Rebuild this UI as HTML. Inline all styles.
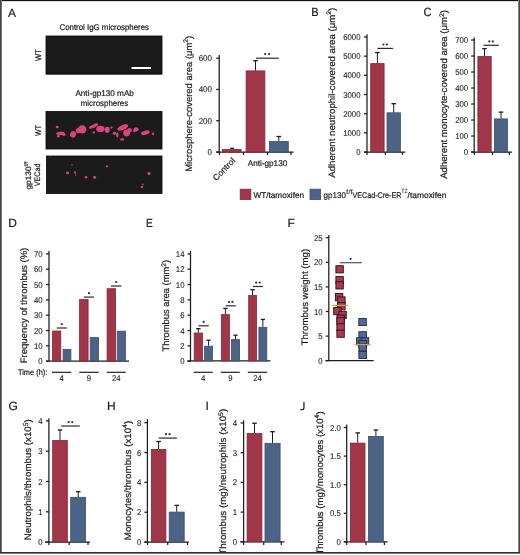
<!DOCTYPE html>
<html><head><meta charset="utf-8"><style>
html,body{margin:0;padding:0;background:#fff;}
svg{display:block;will-change:transform;}
text{font-family:"Liberation Sans", sans-serif;text-rendering:geometricPrecision;stroke:#1a1a1a;stroke-width:0.2px;}
.t{opacity:0.995;}
</style></head><body>
<svg width="520" height="555" viewBox="0 0 520 555">
<rect x="0" y="0" width="520" height="555" fill="#fff"/>
<text x="8" y="16.6" font-size="12" fill="#1a1a1a" >A</text>
<text x="59.5" y="30" font-size="8.3" fill="#1a1a1a" textLength="89.5" lengthAdjust="spacingAndGlyphs" >Control IgG microspheres</text>
<rect x="46" y="36" width="116" height="38.2" fill="#1b1b1b" stroke="#050505" stroke-width="0.8"/>
<rect x="131.5" y="67" width="19.5" height="2" fill="#fff"/>
<text transform="translate(40.7,61.1) rotate(-90)" font-size="8.3" fill="#1a1a1a" textLength="11.9" lengthAdjust="spacingAndGlyphs" >WT</text>
<text x="75.4" y="96" font-size="8.3" fill="#1a1a1a" textLength="58.5" lengthAdjust="spacingAndGlyphs" >Anti-gp130 mAb</text>
<text x="80.8" y="105.9" font-size="8.3" fill="#1a1a1a" textLength="47.3" lengthAdjust="spacingAndGlyphs" >microspheres</text>
<rect x="46" y="111.5" width="116" height="37.5" fill="#1b1b1b" stroke="#050505" stroke-width="0.8"/>
<text transform="translate(40.5,136) rotate(-90)" font-size="8.3" fill="#1a1a1a" textLength="11" lengthAdjust="spacingAndGlyphs" >WT</text>
<rect x="46.5" y="156" width="115.5" height="37.5" fill="#1b1b1b" stroke="#050505" stroke-width="0.8"/>
<text transform="translate(31.0,189.6) rotate(-90)" font-size="7.9" fill="#1a1a1a" textLength="28" lengthAdjust="spacingAndGlyphs" >gp130<tspan font-size="5.4" dy="-3.3">f/f</tspan></text>
<text transform="translate(39.9,186.3) rotate(-90)" font-size="8" fill="#1a1a1a" textLength="22.7" lengthAdjust="spacingAndGlyphs" >VECad</text>
<ellipse cx="57.2" cy="127" rx="1.5" ry="1.2" fill="#d9447e"/>
<ellipse cx="60.5" cy="133.4" rx="4.3" ry="1.7" fill="#d9447e" transform="rotate(-5 60.5 133.4)"/>
<ellipse cx="58.3" cy="136.3" rx="1.3" ry="1.3" fill="#d9447e"/>
<ellipse cx="63.8" cy="134.6" rx="1.8" ry="1.3" fill="#d9447e"/>
<ellipse cx="73.1" cy="134.3" rx="3" ry="3.3" fill="#d9447e" transform="rotate(20 73.1 134.3)"/>
<ellipse cx="82.2" cy="129.3" rx="4.2" ry="4.1" fill="#d9447e"/>
<ellipse cx="78.3" cy="130.6" rx="2.5" ry="2.7" fill="#d9447e"/>
<ellipse cx="93.3" cy="126.3" rx="4.8" ry="1.5" fill="#d9447e" transform="rotate(-22 93.3 126.3)"/>
<ellipse cx="95.8" cy="124.6" rx="2.4" ry="1.2" fill="#d9447e" transform="rotate(-10 95.8 124.6)"/>
<ellipse cx="93.8" cy="132.4" rx="1.2" ry="1.2" fill="#d9447e"/>
<ellipse cx="100.4" cy="128.9" rx="4.2" ry="3.1" fill="#d9447e"/>
<ellipse cx="107.2" cy="129.8" rx="2.6" ry="3.1" fill="#d9447e"/>
<ellipse cx="111.5" cy="127.6" rx="1.2" ry="1.1" fill="#d9447e"/>
<ellipse cx="122.8" cy="127.5" rx="5.8" ry="2.5" fill="#d9447e" transform="rotate(-22 122.8 127.5)"/>
<ellipse cx="126.6" cy="133" rx="3.3" ry="3.4" fill="#d9447e"/>
<ellipse cx="129.6" cy="130.2" rx="2.1" ry="2.3" fill="#d9447e"/>
<ellipse cx="114.5" cy="133.2" rx="1.8" ry="1.5" fill="#d9447e"/>
<ellipse cx="117.3" cy="134.8" rx="1.2" ry="2.6" fill="#d9447e"/>
<ellipse cx="122.2" cy="139.4" rx="2" ry="1.2" fill="#d9447e"/>
<ellipse cx="136.1" cy="129.4" rx="2.6" ry="2.1" fill="#d9447e"/>
<ellipse cx="134.4" cy="131.2" rx="1.2" ry="1.1" fill="#d9447e"/>
<ellipse cx="145.3" cy="132.7" rx="4.5" ry="2.1" fill="#d9447e" transform="rotate(-15 145.3 132.7)"/>
<ellipse cx="153" cy="133.8" rx="1.1" ry="1.4" fill="#d9447e"/>
<ellipse cx="71.9" cy="164.8" rx="1" ry="0.9" fill="#d9447e" opacity="0.6"/>
<ellipse cx="67.5" cy="172.9" rx="1.5" ry="1.4" fill="#d9447e" opacity="1"/>
<ellipse cx="75" cy="172.5" rx="1" ry="1.3" fill="#d9447e" opacity="1"/>
<ellipse cx="75.6" cy="175" rx="0.7" ry="0.7" fill="#d9447e" opacity="1"/>
<ellipse cx="86" cy="177.3" rx="1.4" ry="1.3" fill="#d9447e" opacity="1"/>
<ellipse cx="94.6" cy="177.3" rx="1.5" ry="1.5" fill="#d9447e" opacity="1"/>
<ellipse cx="107" cy="166.3" rx="1.2" ry="1" fill="#d9447e" opacity="1"/>
<ellipse cx="149" cy="173.5" rx="1.6" ry="1.5" fill="#d9447e" opacity="1"/>
<ellipse cx="141.9" cy="186.9" rx="1.2" ry="1.2" fill="#d9447e" opacity="1"/>
<ellipse cx="142.9" cy="184.4" rx="0.8" ry="0.9" fill="#d9447e" opacity="1"/>
<ellipse cx="50.6" cy="156.8" rx="0.7" ry="0.5" fill="#d9447e" opacity="0.5"/>
<ellipse cx="136.5" cy="186.2" rx="0.5" ry="0.5" fill="#d9447e" opacity="0.4"/>
<line x1="219.2" y1="55" x2="219.2" y2="152.5" stroke="#1c1c1c" stroke-width="1.25"/>
<line x1="216.2" y1="58.202" x2="219.2" y2="58.202" stroke="#1c1c1c" stroke-width="1.25"/>
<text x="212" y="61.226" font-size="8.4" fill="#1a1a1a" style="stroke-width:0.1px" text-anchor="end" textLength="13.34" lengthAdjust="spacingAndGlyphs" >600</text>
<line x1="216.2" y1="89.468" x2="219.2" y2="89.468" stroke="#1c1c1c" stroke-width="1.25"/>
<text x="212" y="92.492" font-size="8.4" fill="#1a1a1a" style="stroke-width:0.1px" text-anchor="end" textLength="13.34" lengthAdjust="spacingAndGlyphs" >400</text>
<line x1="216.2" y1="120.73400000000001" x2="219.2" y2="120.73400000000001" stroke="#1c1c1c" stroke-width="1.25"/>
<text x="212" y="123.75800000000001" font-size="8.4" fill="#1a1a1a" style="stroke-width:0.1px" text-anchor="end" textLength="13.34" lengthAdjust="spacingAndGlyphs" >200</text>
<line x1="216.2" y1="152.0" x2="219.2" y2="152.0" stroke="#1c1c1c" stroke-width="1.25"/>
<text x="212" y="155.024" font-size="8.4" fill="#1a1a1a" style="stroke-width:0.1px" text-anchor="end" textLength="4.45" lengthAdjust="spacingAndGlyphs" >0</text>
<line x1="216.2" y1="152" x2="293.5" y2="152" stroke="#1c1c1c" stroke-width="1.25"/>
<line x1="219.4" y1="152" x2="219.4" y2="155" stroke="#1c1c1c" stroke-width="1.25"/>
<line x1="243.5" y1="152" x2="243.5" y2="155" stroke="#1c1c1c" stroke-width="1.25"/>
<line x1="267.5" y1="152" x2="267.5" y2="155" stroke="#1c1c1c" stroke-width="1.25"/>
<line x1="291" y1="152" x2="291" y2="155" stroke="#1c1c1c" stroke-width="1.25"/>
<rect x="222.4" y="149.5" width="18.7" height="2.5" fill="#9f3748" stroke="#8b2336" stroke-width="0.8"/>
<line x1="230.2" y1="148.29999999999998" x2="234.0" y2="148.29999999999998" stroke="#1c1c1c" stroke-width="1.3"/>
<line x1="232.1" y1="148.1" x2="232.1" y2="149.1" stroke="#1c1c1c" stroke-width="1.0"/>
<rect x="246.1" y="70.9" width="18.8" height="81.1" fill="#9f3748" stroke="#8b2336" stroke-width="0.8"/>
<line x1="253.2" y1="60.7" x2="257.8" y2="60.7" stroke="#1c1c1c" stroke-width="1.3"/>
<line x1="255.5" y1="60.5" x2="255.5" y2="70.5" stroke="#1c1c1c" stroke-width="1.0"/>
<rect x="269.4" y="141.4" width="18.9" height="10.6" fill="#4d6386" stroke="#3b4e6e" stroke-width="0.8"/>
<line x1="276.5" y1="136.5" x2="281.1" y2="136.5" stroke="#1c1c1c" stroke-width="1.3"/>
<line x1="278.8" y1="136.3" x2="278.8" y2="141" stroke="#1c1c1c" stroke-width="1.0"/>
<line x1="256" y1="58.2" x2="278.8" y2="58.2" stroke="#2a2a2a" stroke-width="1.2"/>
<circle cx="265.15" cy="54.1" r="1.12" fill="#333"/>
<circle cx="269.05" cy="54.1" r="1.12" fill="#333"/>
<text x="247.7" y="165.6" font-size="8.3" fill="#1a1a1a" textLength="39.6" lengthAdjust="spacingAndGlyphs" >Anti-gp130</text>
<text transform="translate(216.3,181.2) rotate(-46)" font-size="8.3" fill="#1a1a1a" textLength="28" lengthAdjust="spacingAndGlyphs" >Control</text>
<text transform="translate(191.5,171.8) rotate(-90)" font-size="9.4" fill="#1a1a1a" textLength="136" lengthAdjust="spacingAndGlyphs" >Microsphere-covered area (μm<tspan font-size="6.6" dy="-3.6">2</tspan><tspan dy="3.6">)</tspan></text>
<rect x="240.2" y="189.2" width="10.6" height="10.4" fill="#9f3748" stroke="#8b2336" stroke-width="0.8"/>
<text x="253.5" y="197.8" font-size="8.3" fill="#1a1a1a" textLength="50.6" lengthAdjust="spacingAndGlyphs" >WT/tamoxifen</text>
<rect x="310" y="189.2" width="10.6" height="10.4" fill="#4d6386" stroke="#3b4e6e" stroke-width="0.8"/>
<text x="323.6" y="197.8" font-size="8.3" fill="#1a1a1a" textLength="22.3" lengthAdjust="spacingAndGlyphs" >gp130</text>
<text x="345.9" y="194.2" font-size="6.4" fill="#1a1a1a" style="stroke-width:0.05px" textLength="6.9" lengthAdjust="spacingAndGlyphs" >f/f</text>
<text x="352.6" y="197.8" font-size="8.3" fill="#1a1a1a" textLength="48.8" lengthAdjust="spacingAndGlyphs" >VECad-Cre-ER</text>
<text x="401.2" y="192.9" font-size="6.2" fill="#1a1a1a" style="stroke-width:0.05px" textLength="6.4" lengthAdjust="spacingAndGlyphs" >T2</text>
<text x="407.6" y="197.8" font-size="8.3" fill="#1a1a1a" textLength="38.8" lengthAdjust="spacingAndGlyphs" >/tamoxifen</text>
<text x="311.3" y="16.1" font-size="12" fill="#1a1a1a" textLength="7.3" lengthAdjust="spacingAndGlyphs" >B</text>
<line x1="367" y1="34.2" x2="367" y2="152.5" stroke="#1c1c1c" stroke-width="1.25"/>
<line x1="364" y1="36.998000000000005" x2="367" y2="36.998000000000005" stroke="#1c1c1c" stroke-width="1.25"/>
<text x="360.5" y="40.022000000000006" font-size="8.4" fill="#1a1a1a" style="stroke-width:0.1px" text-anchor="end" textLength="17.35" lengthAdjust="spacingAndGlyphs" >6000</text>
<line x1="364" y1="56.165000000000006" x2="367" y2="56.165000000000006" stroke="#1c1c1c" stroke-width="1.25"/>
<text x="360.5" y="59.18900000000001" font-size="8.4" fill="#1a1a1a" style="stroke-width:0.1px" text-anchor="end" textLength="17.35" lengthAdjust="spacingAndGlyphs" >5000</text>
<line x1="364" y1="75.332" x2="367" y2="75.332" stroke="#1c1c1c" stroke-width="1.25"/>
<text x="360.5" y="78.356" font-size="8.4" fill="#1a1a1a" style="stroke-width:0.1px" text-anchor="end" textLength="17.35" lengthAdjust="spacingAndGlyphs" >4000</text>
<line x1="364" y1="94.499" x2="367" y2="94.499" stroke="#1c1c1c" stroke-width="1.25"/>
<text x="360.5" y="97.523" font-size="8.4" fill="#1a1a1a" style="stroke-width:0.1px" text-anchor="end" textLength="17.35" lengthAdjust="spacingAndGlyphs" >3000</text>
<line x1="364" y1="113.666" x2="367" y2="113.666" stroke="#1c1c1c" stroke-width="1.25"/>
<text x="360.5" y="116.69" font-size="8.4" fill="#1a1a1a" style="stroke-width:0.1px" text-anchor="end" textLength="17.35" lengthAdjust="spacingAndGlyphs" >2000</text>
<line x1="364" y1="132.833" x2="367" y2="132.833" stroke="#1c1c1c" stroke-width="1.25"/>
<text x="360.5" y="135.857" font-size="8.4" fill="#1a1a1a" style="stroke-width:0.1px" text-anchor="end" textLength="17.35" lengthAdjust="spacingAndGlyphs" >1000</text>
<line x1="364" y1="152.0" x2="367" y2="152.0" stroke="#1c1c1c" stroke-width="1.25"/>
<text x="360.5" y="155.024" font-size="8.4" fill="#1a1a1a" style="stroke-width:0.1px" text-anchor="end" textLength="4.34" lengthAdjust="spacingAndGlyphs" >0</text>
<line x1="364" y1="152" x2="405.4" y2="152" stroke="#1c1c1c" stroke-width="1.25"/>
<line x1="367" y1="152" x2="367" y2="155" stroke="#1c1c1c" stroke-width="1.25"/>
<line x1="385.4" y1="152" x2="385.4" y2="155" stroke="#1c1c1c" stroke-width="1.25"/>
<line x1="402.5" y1="152" x2="402.5" y2="155" stroke="#1c1c1c" stroke-width="1.25"/>
<rect x="370.7" y="63.6" width="13.4" height="88.4" fill="#9f3748" stroke="#8b2336" stroke-width="0.8"/>
<line x1="375.09999999999997" y1="52.6" x2="379.7" y2="52.6" stroke="#1c1c1c" stroke-width="1.3"/>
<line x1="377.4" y1="52.4" x2="377.4" y2="63.2" stroke="#1c1c1c" stroke-width="1.0"/>
<rect x="387.0" y="112.80000000000001" width="13.4" height="39.2" fill="#4d6386" stroke="#3b4e6e" stroke-width="0.8"/>
<line x1="391.4" y1="103.7" x2="396.0" y2="103.7" stroke="#1c1c1c" stroke-width="1.3"/>
<line x1="393.7" y1="103.5" x2="393.7" y2="112.4" stroke="#1c1c1c" stroke-width="1.0"/>
<line x1="377.4" y1="48.4" x2="393" y2="48.4" stroke="#2a2a2a" stroke-width="1.2"/>
<circle cx="383.45" cy="44.5" r="1.12" fill="#333"/>
<circle cx="386.95" cy="44.5" r="1.12" fill="#333"/>
<text transform="translate(335,177.7) rotate(-90)" font-size="9.4" fill="#1a1a1a" textLength="170" lengthAdjust="spacingAndGlyphs" >Adherent neutrophil-covered area (μm<tspan font-size="6.6" dy="-3.6">2</tspan><tspan dy="3.6">)</tspan></text>
<text x="423.5" y="16.3" font-size="12" fill="#1a1a1a" textLength="8.1" lengthAdjust="spacingAndGlyphs" >C</text>
<line x1="474.2" y1="37.5" x2="474.2" y2="152.5" stroke="#1c1c1c" stroke-width="1.25"/>
<line x1="471.2" y1="40.0" x2="474.2" y2="40.0" stroke="#1c1c1c" stroke-width="1.25"/>
<text x="468.2" y="43.024" font-size="8.4" fill="#1a1a1a" style="stroke-width:0.1px" text-anchor="end" textLength="13.01" lengthAdjust="spacingAndGlyphs" >700</text>
<line x1="471.2" y1="56.0" x2="474.2" y2="56.0" stroke="#1c1c1c" stroke-width="1.25"/>
<text x="468.2" y="59.024" font-size="8.4" fill="#1a1a1a" style="stroke-width:0.1px" text-anchor="end" textLength="13.01" lengthAdjust="spacingAndGlyphs" >600</text>
<line x1="471.2" y1="72.0" x2="474.2" y2="72.0" stroke="#1c1c1c" stroke-width="1.25"/>
<text x="468.2" y="75.024" font-size="8.4" fill="#1a1a1a" style="stroke-width:0.1px" text-anchor="end" textLength="13.01" lengthAdjust="spacingAndGlyphs" >500</text>
<line x1="471.2" y1="88.0" x2="474.2" y2="88.0" stroke="#1c1c1c" stroke-width="1.25"/>
<text x="468.2" y="91.024" font-size="8.4" fill="#1a1a1a" style="stroke-width:0.1px" text-anchor="end" textLength="13.01" lengthAdjust="spacingAndGlyphs" >400</text>
<line x1="471.2" y1="104.0" x2="474.2" y2="104.0" stroke="#1c1c1c" stroke-width="1.25"/>
<text x="468.2" y="107.024" font-size="8.4" fill="#1a1a1a" style="stroke-width:0.1px" text-anchor="end" textLength="13.01" lengthAdjust="spacingAndGlyphs" >300</text>
<line x1="471.2" y1="120.0" x2="474.2" y2="120.0" stroke="#1c1c1c" stroke-width="1.25"/>
<text x="468.2" y="123.024" font-size="8.4" fill="#1a1a1a" style="stroke-width:0.1px" text-anchor="end" textLength="13.01" lengthAdjust="spacingAndGlyphs" >200</text>
<line x1="471.2" y1="136.0" x2="474.2" y2="136.0" stroke="#1c1c1c" stroke-width="1.25"/>
<text x="468.2" y="139.024" font-size="8.4" fill="#1a1a1a" style="stroke-width:0.1px" text-anchor="end" textLength="13.01" lengthAdjust="spacingAndGlyphs" >100</text>
<line x1="471.2" y1="152.0" x2="474.2" y2="152.0" stroke="#1c1c1c" stroke-width="1.25"/>
<text x="468.2" y="155.024" font-size="8.4" fill="#1a1a1a" style="stroke-width:0.1px" text-anchor="end" textLength="4.34" lengthAdjust="spacingAndGlyphs" >0</text>
<line x1="471" y1="152" x2="512" y2="152" stroke="#1c1c1c" stroke-width="1.25"/>
<line x1="474.4" y1="152" x2="474.4" y2="155" stroke="#1c1c1c" stroke-width="1.25"/>
<line x1="492.5" y1="152" x2="492.5" y2="155" stroke="#1c1c1c" stroke-width="1.25"/>
<line x1="509.4" y1="152" x2="509.4" y2="155" stroke="#1c1c1c" stroke-width="1.25"/>
<rect x="477.9" y="56.4" width="13.3" height="95.6" fill="#9f3748" stroke="#8b2336" stroke-width="0.8"/>
<line x1="482.2" y1="48.6" x2="486.8" y2="48.6" stroke="#1c1c1c" stroke-width="1.3"/>
<line x1="484.5" y1="48.4" x2="484.5" y2="56" stroke="#1c1c1c" stroke-width="1.0"/>
<rect x="494.4" y="118.9" width="13.1" height="33.1" fill="#4d6386" stroke="#3b4e6e" stroke-width="0.8"/>
<line x1="498.7" y1="112.10000000000001" x2="503.3" y2="112.10000000000001" stroke="#1c1c1c" stroke-width="1.3"/>
<line x1="501" y1="111.9" x2="501" y2="118.5" stroke="#1c1c1c" stroke-width="1.0"/>
<line x1="483.5" y1="45.3" x2="498.8" y2="45.3" stroke="#2a2a2a" stroke-width="1.2"/>
<circle cx="489.35" cy="41.4" r="1.12" fill="#333"/>
<circle cx="492.85" cy="41.4" r="1.12" fill="#333"/>
<text transform="translate(447.4,178.8) rotate(-90)" font-size="9.4" fill="#1a1a1a" textLength="168.8" lengthAdjust="spacingAndGlyphs" >Adherent monocyte-covered area (μm<tspan font-size="6.6" dy="-3.6">2</tspan><tspan dy="3.6">)</tspan></text>
<text x="8.3" y="226.8" font-size="12" fill="#1a1a1a" >D</text>
<line x1="49" y1="251" x2="49" y2="361.5" stroke="#1c1c1c" stroke-width="1.25"/>
<line x1="46" y1="253.86899999999997" x2="49" y2="253.86899999999997" stroke="#1c1c1c" stroke-width="1.25"/>
<text x="42.6" y="256.893" font-size="8.4" fill="#1a1a1a" style="stroke-width:0.1px" text-anchor="end" textLength="8.67" lengthAdjust="spacingAndGlyphs" >70</text>
<line x1="46" y1="269.202" x2="49" y2="269.202" stroke="#1c1c1c" stroke-width="1.25"/>
<text x="42.6" y="272.226" font-size="8.4" fill="#1a1a1a" style="stroke-width:0.1px" text-anchor="end" textLength="8.67" lengthAdjust="spacingAndGlyphs" >60</text>
<line x1="46" y1="284.53499999999997" x2="49" y2="284.53499999999997" stroke="#1c1c1c" stroke-width="1.25"/>
<text x="42.6" y="287.55899999999997" font-size="8.4" fill="#1a1a1a" style="stroke-width:0.1px" text-anchor="end" textLength="8.67" lengthAdjust="spacingAndGlyphs" >50</text>
<line x1="46" y1="299.868" x2="49" y2="299.868" stroke="#1c1c1c" stroke-width="1.25"/>
<text x="42.6" y="302.892" font-size="8.4" fill="#1a1a1a" style="stroke-width:0.1px" text-anchor="end" textLength="8.67" lengthAdjust="spacingAndGlyphs" >40</text>
<line x1="46" y1="315.20099999999996" x2="49" y2="315.20099999999996" stroke="#1c1c1c" stroke-width="1.25"/>
<text x="42.6" y="318.22499999999997" font-size="8.4" fill="#1a1a1a" style="stroke-width:0.1px" text-anchor="end" textLength="8.67" lengthAdjust="spacingAndGlyphs" >30</text>
<line x1="46" y1="330.534" x2="49" y2="330.534" stroke="#1c1c1c" stroke-width="1.25"/>
<text x="42.6" y="333.558" font-size="8.4" fill="#1a1a1a" style="stroke-width:0.1px" text-anchor="end" textLength="8.67" lengthAdjust="spacingAndGlyphs" >20</text>
<line x1="46" y1="345.86699999999996" x2="49" y2="345.86699999999996" stroke="#1c1c1c" stroke-width="1.25"/>
<text x="42.6" y="348.89099999999996" font-size="8.4" fill="#1a1a1a" style="stroke-width:0.1px" text-anchor="end" textLength="8.67" lengthAdjust="spacingAndGlyphs" >10</text>
<line x1="46" y1="361.2" x2="49" y2="361.2" stroke="#1c1c1c" stroke-width="1.25"/>
<text x="42.6" y="364.224" font-size="8.4" fill="#1a1a1a" style="stroke-width:0.1px" text-anchor="end" textLength="4.34" lengthAdjust="spacingAndGlyphs" >0</text>
<line x1="46" y1="361" x2="129" y2="361" stroke="#1c1c1c" stroke-width="1.25"/>
<rect x="52.6" y="331.0" width="8.2" height="30.0" fill="#9f3748" stroke="#8b2336" stroke-width="0.8"/>
<rect x="63.1" y="349.4" width="7.8" height="11.6" fill="#4d6386" stroke="#3b4e6e" stroke-width="0.8"/>
<line x1="56.8" y1="328" x2="66.9" y2="328" stroke="#2a2a2a" stroke-width="1.2"/>
<circle cx="61.85" cy="324.1" r="1.12" fill="#333"/>
<rect x="79.60000000000001" y="299.5" width="8.5" height="61.5" fill="#9f3748" stroke="#8b2336" stroke-width="0.8"/>
<rect x="90.2" y="337.5" width="8.3" height="23.5" fill="#4d6386" stroke="#3b4e6e" stroke-width="0.8"/>
<line x1="84" y1="297.1" x2="94" y2="297.1" stroke="#2a2a2a" stroke-width="1.2"/>
<circle cx="89.0" cy="293.20000000000005" r="1.12" fill="#333"/>
<rect x="107.10000000000001" y="288.7" width="8.5" height="72.3" fill="#9f3748" stroke="#8b2336" stroke-width="0.8"/>
<rect x="117.2" y="331.2" width="8.2" height="29.8" fill="#4d6386" stroke="#3b4e6e" stroke-width="0.8"/>
<line x1="111" y1="286" x2="121.4" y2="286" stroke="#2a2a2a" stroke-width="1.2"/>
<circle cx="116.2" cy="282.1" r="1.12" fill="#333"/>
<line x1="52" y1="372.3" x2="71.3" y2="372.3" stroke="#222" stroke-width="1.2"/>
<text x="61.65" y="381" font-size="8.4" fill="#1a1a1a" style="stroke-width:0.12px" text-anchor="middle" textLength="4.28" lengthAdjust="spacingAndGlyphs" >4</text>
<line x1="79.3" y1="372.3" x2="98.7" y2="372.3" stroke="#222" stroke-width="1.2"/>
<text x="89.0" y="381" font-size="8.4" fill="#1a1a1a" style="stroke-width:0.12px" text-anchor="middle" textLength="4.28" lengthAdjust="spacingAndGlyphs" >9</text>
<line x1="106.7" y1="372.3" x2="125.8" y2="372.3" stroke="#222" stroke-width="1.2"/>
<text x="116.25" y="381" font-size="8.4" fill="#1a1a1a" style="stroke-width:0.12px" text-anchor="middle" textLength="8.56" lengthAdjust="spacingAndGlyphs" >24</text>
<text x="17.9" y="374.8" font-size="8.1" fill="#1a1a1a" textLength="29.4" lengthAdjust="spacingAndGlyphs" >Time (h):</text>
<text transform="translate(27.4,363.3) rotate(-90)" font-size="9.4" fill="#1a1a1a" textLength="115.6" lengthAdjust="spacingAndGlyphs" >Frequency of thrombus (%)</text>
<text x="145.9" y="226.8" font-size="12" fill="#1a1a1a" textLength="6.8" lengthAdjust="spacingAndGlyphs" >E</text>
<line x1="190.5" y1="251" x2="190.5" y2="361.5" stroke="#1c1c1c" stroke-width="1.25"/>
<line x1="187.5" y1="253.8662" x2="190.5" y2="253.8662" stroke="#1c1c1c" stroke-width="1.25"/>
<text x="184.5" y="256.8902" font-size="8.4" fill="#1a1a1a" style="stroke-width:0.1px" text-anchor="end" textLength="8.67" lengthAdjust="spacingAndGlyphs" >14</text>
<line x1="187.5" y1="269.1996" x2="190.5" y2="269.1996" stroke="#1c1c1c" stroke-width="1.25"/>
<text x="184.5" y="272.2236" font-size="8.4" fill="#1a1a1a" style="stroke-width:0.1px" text-anchor="end" textLength="8.67" lengthAdjust="spacingAndGlyphs" >12</text>
<line x1="187.5" y1="284.533" x2="190.5" y2="284.533" stroke="#1c1c1c" stroke-width="1.25"/>
<text x="184.5" y="287.557" font-size="8.4" fill="#1a1a1a" style="stroke-width:0.1px" text-anchor="end" textLength="8.67" lengthAdjust="spacingAndGlyphs" >10</text>
<line x1="187.5" y1="299.8664" x2="190.5" y2="299.8664" stroke="#1c1c1c" stroke-width="1.25"/>
<text x="184.5" y="302.8904" font-size="8.4" fill="#1a1a1a" style="stroke-width:0.1px" text-anchor="end" textLength="4.34" lengthAdjust="spacingAndGlyphs" >8</text>
<line x1="187.5" y1="315.1998" x2="190.5" y2="315.1998" stroke="#1c1c1c" stroke-width="1.25"/>
<text x="184.5" y="318.2238" font-size="8.4" fill="#1a1a1a" style="stroke-width:0.1px" text-anchor="end" textLength="4.34" lengthAdjust="spacingAndGlyphs" >6</text>
<line x1="187.5" y1="330.53319999999997" x2="190.5" y2="330.53319999999997" stroke="#1c1c1c" stroke-width="1.25"/>
<text x="184.5" y="333.55719999999997" font-size="8.4" fill="#1a1a1a" style="stroke-width:0.1px" text-anchor="end" textLength="4.34" lengthAdjust="spacingAndGlyphs" >4</text>
<line x1="187.5" y1="345.8666" x2="190.5" y2="345.8666" stroke="#1c1c1c" stroke-width="1.25"/>
<text x="184.5" y="348.8906" font-size="8.4" fill="#1a1a1a" style="stroke-width:0.1px" text-anchor="end" textLength="4.34" lengthAdjust="spacingAndGlyphs" >2</text>
<line x1="187.5" y1="361.2" x2="190.5" y2="361.2" stroke="#1c1c1c" stroke-width="1.25"/>
<text x="184.5" y="364.224" font-size="8.4" fill="#1a1a1a" style="stroke-width:0.1px" text-anchor="end" textLength="4.34" lengthAdjust="spacingAndGlyphs" >0</text>
<line x1="187.5" y1="360.8" x2="270.5" y2="360.8" stroke="#1c1c1c" stroke-width="1.25"/>
<rect x="194.20000000000002" y="333.0" width="8.3" height="28.0" fill="#9f3748" stroke="#8b2336" stroke-width="0.8"/>
<line x1="196.15000000000003" y1="328.7" x2="200.55" y2="328.7" stroke="#1c1c1c" stroke-width="1.3"/>
<line x1="198.35000000000002" y1="328.5" x2="198.35000000000002" y2="332.6" stroke="#1c1c1c" stroke-width="1.0"/>
<rect x="204.6" y="346.2" width="7.9" height="14.8" fill="#4d6386" stroke="#3b4e6e" stroke-width="0.8"/>
<line x1="206.45000000000002" y1="340.2" x2="210.65" y2="340.2" stroke="#1c1c1c" stroke-width="1.3"/>
<line x1="208.55" y1="340" x2="208.55" y2="345.8" stroke="#1c1c1c" stroke-width="1.0"/>
<line x1="198.5" y1="325.8" x2="208.8" y2="325.8" stroke="#2a2a2a" stroke-width="1.2"/>
<circle cx="203.65" cy="321.90000000000003" r="1.12" fill="#333"/>
<rect x="221.4" y="314.59999999999997" width="8.0" height="46.4" fill="#9f3748" stroke="#8b2336" stroke-width="0.8"/>
<line x1="223.20000000000002" y1="308.4" x2="227.6" y2="308.4" stroke="#1c1c1c" stroke-width="1.3"/>
<line x1="225.4" y1="308.2" x2="225.4" y2="314.2" stroke="#1c1c1c" stroke-width="1.0"/>
<rect x="231.4" y="339.59999999999997" width="8.2" height="21.4" fill="#4d6386" stroke="#3b4e6e" stroke-width="0.8"/>
<line x1="233.4" y1="335.2" x2="237.6" y2="335.2" stroke="#1c1c1c" stroke-width="1.3"/>
<line x1="235.5" y1="335" x2="235.5" y2="339.2" stroke="#1c1c1c" stroke-width="1.0"/>
<line x1="225.7" y1="305.8" x2="235.7" y2="305.8" stroke="#2a2a2a" stroke-width="1.2"/>
<circle cx="228.95" cy="301.90000000000003" r="1.12" fill="#333"/>
<circle cx="232.45" cy="301.90000000000003" r="1.12" fill="#333"/>
<rect x="248.70000000000002" y="295.5" width="7.8" height="65.5" fill="#9f3748" stroke="#8b2336" stroke-width="0.8"/>
<line x1="250.4" y1="289.7" x2="254.79999999999998" y2="289.7" stroke="#1c1c1c" stroke-width="1.3"/>
<line x1="252.6" y1="289.5" x2="252.6" y2="295.1" stroke="#1c1c1c" stroke-width="1.0"/>
<rect x="258.9" y="327.29999999999995" width="7.9" height="33.7" fill="#4d6386" stroke="#3b4e6e" stroke-width="0.8"/>
<line x1="260.75" y1="319.4" x2="264.95000000000005" y2="319.4" stroke="#1c1c1c" stroke-width="1.3"/>
<line x1="262.85" y1="319.2" x2="262.85" y2="326.9" stroke="#1c1c1c" stroke-width="1.0"/>
<line x1="252.9" y1="286.5" x2="262.9" y2="286.5" stroke="#2a2a2a" stroke-width="1.2"/>
<circle cx="256.15" cy="282.6" r="1.12" fill="#333"/>
<circle cx="259.65" cy="282.6" r="1.12" fill="#333"/>
<line x1="193.7" y1="372.3" x2="212.7" y2="372.3" stroke="#222" stroke-width="1.2"/>
<text x="203.2" y="381" font-size="8.4" fill="#1a1a1a" style="stroke-width:0.12px" text-anchor="middle" textLength="4.28" lengthAdjust="spacingAndGlyphs" >4</text>
<line x1="220.8" y1="372.3" x2="239.8" y2="372.3" stroke="#222" stroke-width="1.2"/>
<text x="230.3" y="381" font-size="8.4" fill="#1a1a1a" style="stroke-width:0.12px" text-anchor="middle" textLength="4.28" lengthAdjust="spacingAndGlyphs" >9</text>
<line x1="247.8" y1="372.3" x2="267.3" y2="372.3" stroke="#222" stroke-width="1.2"/>
<text x="257.55" y="381" font-size="8.4" fill="#1a1a1a" style="stroke-width:0.12px" text-anchor="middle" textLength="8.56" lengthAdjust="spacingAndGlyphs" >24</text>
<text transform="translate(169.4,351.5) rotate(-90)" font-size="9.4" fill="#1a1a1a" textLength="91.6" lengthAdjust="spacingAndGlyphs" >Thrombus area (mm<tspan font-size="6.6" dy="-3.6">2</tspan><tspan dy="3.6">)</tspan></text>
<text x="287.6" y="226.8" font-size="12" fill="#1a1a1a" >F</text>
<line x1="328.8" y1="235" x2="328.8" y2="361.1" stroke="#1c1c1c" stroke-width="1.25"/>
<line x1="325.8" y1="237.7" x2="328.8" y2="237.7" stroke="#1c1c1c" stroke-width="1.25"/>
<text x="322.6" y="240.724" font-size="8.4" fill="#1a1a1a" style="stroke-width:0.1px" text-anchor="end" textLength="8.67" lengthAdjust="spacingAndGlyphs" >25</text>
<line x1="325.8" y1="262.29999999999995" x2="328.8" y2="262.29999999999995" stroke="#1c1c1c" stroke-width="1.25"/>
<text x="322.6" y="265.32399999999996" font-size="8.4" fill="#1a1a1a" style="stroke-width:0.1px" text-anchor="end" textLength="8.67" lengthAdjust="spacingAndGlyphs" >20</text>
<line x1="325.8" y1="286.9" x2="328.8" y2="286.9" stroke="#1c1c1c" stroke-width="1.25"/>
<text x="322.6" y="289.924" font-size="8.4" fill="#1a1a1a" style="stroke-width:0.1px" text-anchor="end" textLength="8.67" lengthAdjust="spacingAndGlyphs" >15</text>
<line x1="325.8" y1="311.5" x2="328.8" y2="311.5" stroke="#1c1c1c" stroke-width="1.25"/>
<text x="322.6" y="314.524" font-size="8.4" fill="#1a1a1a" style="stroke-width:0.1px" text-anchor="end" textLength="8.67" lengthAdjust="spacingAndGlyphs" >10</text>
<line x1="325.8" y1="336.09999999999997" x2="328.8" y2="336.09999999999997" stroke="#1c1c1c" stroke-width="1.25"/>
<text x="322.6" y="339.12399999999997" font-size="8.4" fill="#1a1a1a" style="stroke-width:0.1px" text-anchor="end" textLength="4.34" lengthAdjust="spacingAndGlyphs" >5</text>
<line x1="325.8" y1="360.7" x2="328.8" y2="360.7" stroke="#1c1c1c" stroke-width="1.25"/>
<text x="322.6" y="363.724" font-size="8.4" fill="#1a1a1a" style="stroke-width:0.1px" text-anchor="end" textLength="4.34" lengthAdjust="spacingAndGlyphs" >0</text>
<line x1="325.5" y1="360.6" x2="373.7" y2="360.6" stroke="#1c1c1c" stroke-width="1.2"/>
<rect x="335.9" y="265.7" width="7.4" height="7.2" fill="#a93a50" stroke="#2a1016" stroke-width="0.9"/>
<rect x="335.9" y="276.4" width="7.4" height="7.2" fill="#a93a50" stroke="#2a1016" stroke-width="0.9"/>
<rect x="335.9" y="281.79999999999995" width="7.4" height="7.2" fill="#a93a50" stroke="#2a1016" stroke-width="0.9"/>
<rect x="335.4" y="293.5" width="7.4" height="7.2" fill="#a93a50" stroke="#2a1016" stroke-width="0.9"/>
<rect x="337.7" y="296.9" width="7.4" height="7.2" fill="#a93a50" stroke="#2a1016" stroke-width="0.9"/>
<rect x="337.7" y="302.59999999999997" width="7.4" height="7.2" fill="#a93a50" stroke="#2a1016" stroke-width="0.9"/>
<rect x="333.7" y="307.5" width="7.4" height="7.2" fill="#a93a50" stroke="#2a1016" stroke-width="0.9"/>
<rect x="338.9" y="311.29999999999995" width="7.4" height="7.2" fill="#a93a50" stroke="#2a1016" stroke-width="0.9"/>
<rect x="336.9" y="315.0" width="7.4" height="7.2" fill="#a93a50" stroke="#2a1016" stroke-width="0.9"/>
<rect x="336.9" y="317.7" width="7.4" height="7.2" fill="#a93a50" stroke="#2a1016" stroke-width="0.9"/>
<rect x="336.9" y="323.7" width="7.4" height="7.2" fill="#a93a50" stroke="#2a1016" stroke-width="0.9"/>
<rect x="336.9" y="330.09999999999997" width="7.4" height="7.2" fill="#a93a50" stroke="#2a1016" stroke-width="0.9"/>
<rect x="358.79999999999995" y="318.4" width="7.5" height="7.2" fill="#50699a" stroke="#1e2838" stroke-width="0.9"/>
<rect x="358.9" y="331.7" width="7.5" height="7.2" fill="#50699a" stroke="#1e2838" stroke-width="0.9"/>
<rect x="356.59999999999997" y="337.7" width="7.5" height="7.2" fill="#50699a" stroke="#1e2838" stroke-width="0.9"/>
<rect x="361.2" y="337.7" width="7.5" height="7.2" fill="#50699a" stroke="#1e2838" stroke-width="0.9"/>
<rect x="358.9" y="340.4" width="7.5" height="7.2" fill="#50699a" stroke="#1e2838" stroke-width="0.9"/>
<rect x="358.9" y="343.9" width="7.5" height="7.2" fill="#50699a" stroke="#1e2838" stroke-width="0.9"/>
<rect x="358.9" y="351.29999999999995" width="7.5" height="7.2" fill="#50699a" stroke="#1e2838" stroke-width="0.9"/>
<line x1="332.1" y1="305.4" x2="348" y2="305.4" stroke="#e39a3a" stroke-width="1.2"/>
<line x1="354.4" y1="344.5" x2="370.8" y2="344.5" stroke="#e39a3a" stroke-width="1.2"/>
<line x1="339.9" y1="262.7" x2="361.8" y2="262.7" stroke="#555" stroke-width="1.2"/>
<circle cx="350.6" cy="258.8" r="1.12" fill="#333"/>
<text transform="translate(307.6,345.4) rotate(-90)" font-size="9.4" fill="#1a1a1a" textLength="96.5" lengthAdjust="spacingAndGlyphs" >Thrombus weight (mg)</text>
<text x="8.5" y="410.4" font-size="12" fill="#1a1a1a" >G</text>
<line x1="48.9" y1="418.3" x2="48.9" y2="542.5" stroke="#1c1c1c" stroke-width="1.25"/>
<line x1="45.9" y1="420.90000000000003" x2="48.9" y2="420.90000000000003" stroke="#1c1c1c" stroke-width="1.25"/>
<text x="42.6" y="423.92400000000004" font-size="8.4" fill="#1a1a1a" style="stroke-width:0.1px" text-anchor="end" textLength="4.34" lengthAdjust="spacingAndGlyphs" >4</text>
<line x1="45.9" y1="451.20000000000005" x2="48.9" y2="451.20000000000005" stroke="#1c1c1c" stroke-width="1.25"/>
<text x="42.6" y="454.22400000000005" font-size="8.4" fill="#1a1a1a" style="stroke-width:0.1px" text-anchor="end" textLength="4.34" lengthAdjust="spacingAndGlyphs" >3</text>
<line x1="45.9" y1="481.5" x2="48.9" y2="481.5" stroke="#1c1c1c" stroke-width="1.25"/>
<text x="42.6" y="484.524" font-size="8.4" fill="#1a1a1a" style="stroke-width:0.1px" text-anchor="end" textLength="4.34" lengthAdjust="spacingAndGlyphs" >2</text>
<line x1="45.9" y1="511.8" x2="48.9" y2="511.8" stroke="#1c1c1c" stroke-width="1.25"/>
<text x="42.6" y="514.824" font-size="8.4" fill="#1a1a1a" style="stroke-width:0.1px" text-anchor="end" textLength="4.34" lengthAdjust="spacingAndGlyphs" >1</text>
<line x1="45.9" y1="542.1" x2="48.9" y2="542.1" stroke="#1c1c1c" stroke-width="1.25"/>
<text x="42.6" y="545.124" font-size="8.4" fill="#1a1a1a" style="stroke-width:0.1px" text-anchor="end" textLength="4.34" lengthAdjust="spacingAndGlyphs" >0</text>
<line x1="45" y1="542" x2="90" y2="542" stroke="#1c1c1c" stroke-width="1.25"/>
<line x1="48.9" y1="542" x2="48.9" y2="545" stroke="#1c1c1c" stroke-width="1.25"/>
<line x1="69.2" y1="542" x2="69.2" y2="545" stroke="#1c1c1c" stroke-width="1.25"/>
<line x1="88" y1="542" x2="88" y2="545" stroke="#1c1c1c" stroke-width="1.25"/>
<rect x="52.699999999999996" y="440.4" width="14.6" height="101.6" fill="#9f3748" stroke="#8b2336" stroke-width="0.8"/>
<line x1="57.7" y1="430.0" x2="62.3" y2="430.0" stroke="#1c1c1c" stroke-width="1.3"/>
<line x1="60" y1="429.8" x2="60" y2="440" stroke="#1c1c1c" stroke-width="1.0"/>
<rect x="70.7" y="497.29999999999995" width="14.9" height="44.7" fill="#4d6386" stroke="#3b4e6e" stroke-width="0.8"/>
<line x1="75.9" y1="491.7" x2="80.5" y2="491.7" stroke="#1c1c1c" stroke-width="1.3"/>
<line x1="78.2" y1="491.5" x2="78.2" y2="496.9" stroke="#1c1c1c" stroke-width="1.0"/>
<line x1="61.2" y1="426" x2="79.8" y2="426" stroke="#2a2a2a" stroke-width="1.2"/>
<circle cx="68.75" cy="422.1" r="1.12" fill="#333"/>
<circle cx="72.25" cy="422.1" r="1.12" fill="#333"/>
<text transform="translate(31.3,540.2) rotate(-90)" font-size="9.4" fill="#1a1a1a" textLength="121" lengthAdjust="spacingAndGlyphs" >Neutrophils/thrombus (x10<tspan font-size="6.6" dy="-3.6">5</tspan><tspan dy="3.6">)</tspan></text>
<text x="107.1" y="410.4" font-size="12" fill="#1a1a1a" >H</text>
<line x1="147.4" y1="419.2" x2="147.4" y2="542.5" stroke="#1c1c1c" stroke-width="1.25"/>
<line x1="144.4" y1="422.66" x2="147.4" y2="422.66" stroke="#1c1c1c" stroke-width="1.25"/>
<text x="141.3" y="425.684" font-size="8.4" fill="#1a1a1a" style="stroke-width:0.1px" text-anchor="end" textLength="4.34" lengthAdjust="spacingAndGlyphs" >8</text>
<line x1="144.4" y1="452.52000000000004" x2="147.4" y2="452.52000000000004" stroke="#1c1c1c" stroke-width="1.25"/>
<text x="141.3" y="455.54400000000004" font-size="8.4" fill="#1a1a1a" style="stroke-width:0.1px" text-anchor="end" textLength="4.34" lengthAdjust="spacingAndGlyphs" >6</text>
<line x1="144.4" y1="482.38" x2="147.4" y2="482.38" stroke="#1c1c1c" stroke-width="1.25"/>
<text x="141.3" y="485.404" font-size="8.4" fill="#1a1a1a" style="stroke-width:0.1px" text-anchor="end" textLength="4.34" lengthAdjust="spacingAndGlyphs" >4</text>
<line x1="144.4" y1="512.24" x2="147.4" y2="512.24" stroke="#1c1c1c" stroke-width="1.25"/>
<text x="141.3" y="515.264" font-size="8.4" fill="#1a1a1a" style="stroke-width:0.1px" text-anchor="end" textLength="4.34" lengthAdjust="spacingAndGlyphs" >2</text>
<line x1="144.4" y1="542.1" x2="147.4" y2="542.1" stroke="#1c1c1c" stroke-width="1.25"/>
<text x="141.3" y="545.124" font-size="8.4" fill="#1a1a1a" style="stroke-width:0.1px" text-anchor="end" textLength="4.34" lengthAdjust="spacingAndGlyphs" >0</text>
<line x1="144.3" y1="542" x2="188.8" y2="542" stroke="#1c1c1c" stroke-width="1.25"/>
<line x1="147.5" y1="542" x2="147.5" y2="545" stroke="#1c1c1c" stroke-width="1.25"/>
<line x1="167.7" y1="542" x2="167.7" y2="545" stroke="#1c1c1c" stroke-width="1.25"/>
<line x1="187.5" y1="542" x2="187.5" y2="545" stroke="#1c1c1c" stroke-width="1.25"/>
<rect x="151.4" y="449.4" width="14.5" height="92.6" fill="#9f3748" stroke="#8b2336" stroke-width="0.8"/>
<line x1="156.29999999999998" y1="441.5" x2="160.9" y2="441.5" stroke="#1c1c1c" stroke-width="1.3"/>
<line x1="158.6" y1="441.3" x2="158.6" y2="449" stroke="#1c1c1c" stroke-width="1.0"/>
<rect x="169.20000000000002" y="512.1" width="15.0" height="29.9" fill="#4d6386" stroke="#3b4e6e" stroke-width="0.8"/>
<line x1="174.39999999999998" y1="505.4" x2="179.0" y2="505.4" stroke="#1c1c1c" stroke-width="1.3"/>
<line x1="176.7" y1="505.2" x2="176.7" y2="511.7" stroke="#1c1c1c" stroke-width="1.0"/>
<line x1="158.7" y1="438.1" x2="176.9" y2="438.1" stroke="#2a2a2a" stroke-width="1.2"/>
<circle cx="166.05" cy="434.2" r="1.12" fill="#333"/>
<circle cx="169.55" cy="434.2" r="1.12" fill="#333"/>
<text transform="translate(130.6,540.2) rotate(-90)" font-size="9.4" fill="#1a1a1a" textLength="119.4" lengthAdjust="spacingAndGlyphs" >Monocytes/thrombus (x10<tspan font-size="6.6" dy="-3.6">4</tspan><tspan dy="3.6">)</tspan></text>
<text x="205.4" y="410" font-size="12" fill="#1a1a1a" >I</text>
<line x1="243.6" y1="420.4" x2="243.6" y2="542.3" stroke="#1c1c1c" stroke-width="1.25"/>
<line x1="240.6" y1="422.99999999999994" x2="243.6" y2="422.99999999999994" stroke="#1c1c1c" stroke-width="1.25"/>
<text x="237.1" y="426.02399999999994" font-size="8.4" fill="#1a1a1a" style="stroke-width:0.1px" text-anchor="end" textLength="4.34" lengthAdjust="spacingAndGlyphs" >4</text>
<line x1="240.6" y1="452.69999999999993" x2="243.6" y2="452.69999999999993" stroke="#1c1c1c" stroke-width="1.25"/>
<text x="237.1" y="455.72399999999993" font-size="8.4" fill="#1a1a1a" style="stroke-width:0.1px" text-anchor="end" textLength="4.34" lengthAdjust="spacingAndGlyphs" >3</text>
<line x1="240.6" y1="482.4" x2="243.6" y2="482.4" stroke="#1c1c1c" stroke-width="1.25"/>
<text x="237.1" y="485.424" font-size="8.4" fill="#1a1a1a" style="stroke-width:0.1px" text-anchor="end" textLength="4.34" lengthAdjust="spacingAndGlyphs" >2</text>
<line x1="240.6" y1="512.0999999999999" x2="243.6" y2="512.0999999999999" stroke="#1c1c1c" stroke-width="1.25"/>
<text x="237.1" y="515.1239999999999" font-size="8.4" fill="#1a1a1a" style="stroke-width:0.1px" text-anchor="end" textLength="4.34" lengthAdjust="spacingAndGlyphs" >1</text>
<line x1="240.6" y1="541.8" x2="243.6" y2="541.8" stroke="#1c1c1c" stroke-width="1.25"/>
<text x="237.1" y="544.824" font-size="8.4" fill="#1a1a1a" style="stroke-width:0.1px" text-anchor="end" textLength="4.34" lengthAdjust="spacingAndGlyphs" >0</text>
<line x1="240.3" y1="541.8" x2="284.5" y2="541.8" stroke="#1c1c1c" stroke-width="1.25"/>
<line x1="243.6" y1="541.8" x2="243.6" y2="545" stroke="#1c1c1c" stroke-width="1.25"/>
<line x1="263.7" y1="541.8" x2="263.7" y2="545" stroke="#1c1c1c" stroke-width="1.25"/>
<line x1="281.3" y1="541.8" x2="281.3" y2="545" stroke="#1c1c1c" stroke-width="1.25"/>
<rect x="247.1" y="433.59999999999997" width="14.8" height="108.2" fill="#9f3748" stroke="#8b2336" stroke-width="0.8"/>
<line x1="252.2" y1="423.2" x2="256.8" y2="423.2" stroke="#1c1c1c" stroke-width="1.3"/>
<line x1="254.5" y1="423" x2="254.5" y2="433.2" stroke="#1c1c1c" stroke-width="1.0"/>
<rect x="265.0" y="443.29999999999995" width="15.1" height="98.5" fill="#4d6386" stroke="#3b4e6e" stroke-width="0.8"/>
<line x1="270.2" y1="431.7" x2="274.8" y2="431.7" stroke="#1c1c1c" stroke-width="1.3"/>
<line x1="272.5" y1="431.5" x2="272.5" y2="442.9" stroke="#1c1c1c" stroke-width="1.0"/>
<text transform="translate(226.2,554.7) rotate(-90)" font-size="9.4" fill="#1a1a1a" textLength="145.9" lengthAdjust="spacingAndGlyphs" >Thrombus (mg)/neutrophils (x10<tspan font-size="6.6" dy="-3.6">5</tspan><tspan dy="3.6">)</tspan></text>
<path d="M303.95,401.9 L303.95,407.4 Q303.95,409.75 301.8,409.75 Q301,409.75 300.5,409.3" fill="none" stroke="#1a1a1a" stroke-width="1.2"/>
<line x1="346.7" y1="424.6" x2="346.7" y2="542.4" stroke="#1c1c1c" stroke-width="1.25"/>
<line x1="343.7" y1="427.5" x2="346.7" y2="427.5" stroke="#1c1c1c" stroke-width="1.25"/>
<text x="340.8" y="430.524" font-size="8.4" fill="#1a1a1a" style="stroke-width:0.1px" text-anchor="end" textLength="10.84" lengthAdjust="spacingAndGlyphs" >2.0</text>
<line x1="343.7" y1="456.09999999999997" x2="346.7" y2="456.09999999999997" stroke="#1c1c1c" stroke-width="1.25"/>
<text x="340.8" y="459.12399999999997" font-size="8.4" fill="#1a1a1a" style="stroke-width:0.1px" text-anchor="end" textLength="10.84" lengthAdjust="spacingAndGlyphs" >1.5</text>
<line x1="343.7" y1="484.7" x2="346.7" y2="484.7" stroke="#1c1c1c" stroke-width="1.25"/>
<text x="340.8" y="487.724" font-size="8.4" fill="#1a1a1a" style="stroke-width:0.1px" text-anchor="end" textLength="10.84" lengthAdjust="spacingAndGlyphs" >1.0</text>
<line x1="343.7" y1="513.3" x2="346.7" y2="513.3" stroke="#1c1c1c" stroke-width="1.25"/>
<text x="340.8" y="516.324" font-size="8.4" fill="#1a1a1a" style="stroke-width:0.1px" text-anchor="end" textLength="10.84" lengthAdjust="spacingAndGlyphs" >0.5</text>
<line x1="343.7" y1="541.9" x2="346.7" y2="541.9" stroke="#1c1c1c" stroke-width="1.25"/>
<text x="340.8" y="544.924" font-size="8.4" fill="#1a1a1a" style="stroke-width:0.1px" text-anchor="end" textLength="4.34" lengthAdjust="spacingAndGlyphs" >0</text>
<line x1="343.9" y1="541.9" x2="387.6" y2="541.9" stroke="#1c1c1c" stroke-width="1.25"/>
<line x1="346.7" y1="541.9" x2="346.7" y2="545" stroke="#1c1c1c" stroke-width="1.25"/>
<line x1="366" y1="541.9" x2="366" y2="545" stroke="#1c1c1c" stroke-width="1.25"/>
<line x1="384.4" y1="541.9" x2="384.4" y2="545" stroke="#1c1c1c" stroke-width="1.25"/>
<rect x="350.4" y="443.09999999999997" width="14.6" height="98.8" fill="#9f3748" stroke="#8b2336" stroke-width="0.8"/>
<line x1="355.4" y1="432.9" x2="360.0" y2="432.9" stroke="#1c1c1c" stroke-width="1.3"/>
<line x1="357.7" y1="432.7" x2="357.7" y2="442.7" stroke="#1c1c1c" stroke-width="1.0"/>
<rect x="368.5" y="436.4" width="14.8" height="105.5" fill="#4d6386" stroke="#3b4e6e" stroke-width="0.8"/>
<line x1="373.59999999999997" y1="430.0" x2="378.2" y2="430.0" stroke="#1c1c1c" stroke-width="1.3"/>
<line x1="375.9" y1="429.8" x2="375.9" y2="436" stroke="#1c1c1c" stroke-width="1.0"/>
<text transform="translate(322.6,554.6) rotate(-90)" font-size="9.4" fill="#1a1a1a" textLength="143.2" lengthAdjust="spacingAndGlyphs" >Thrombus (mg)/monocytes (x10<tspan font-size="6.6" dy="-3.6">4</tspan><tspan dy="3.6">)</tspan></text>
<rect x="0" y="553.9" width="520" height="1.1" fill="#fff"/>
<rect x="0" y="0" width="520" height="1" fill="#111"/>
<rect x="0" y="1" width="520" height="0.6" fill="#ccc"/>
<rect x="0" y="0" width="1" height="554" fill="#444"/>
<rect x="1" y="0" width="1" height="554" fill="#777"/>
<rect x="518" y="0" width="1" height="554" fill="#888"/>
<rect x="519" y="0" width="1" height="554" fill="#444"/>
<rect x="0" y="552" width="520" height="1" fill="#333"/>
<rect x="0" y="553" width="520" height="1" fill="#777"/>
</svg>
</body></html>
